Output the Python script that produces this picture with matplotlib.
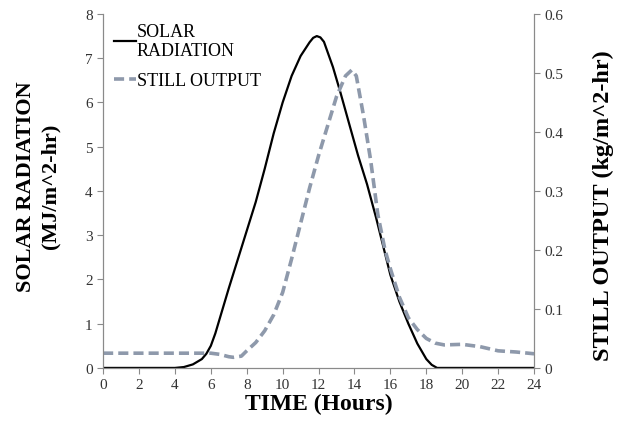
import matplotlib
matplotlib.use("Agg")
import matplotlib.pyplot as plt

hours_solar = [0, 1, 2, 3, 4, 4.5, 5, 5.5, 5.75, 6, 6.25, 6.5, 7, 7.5, 8, 8.5, 9, 9.5, 10, 10.5,
               11, 11.5, 11.7, 11.9, 12.1, 12.3, 12.8, 13.2, 13.75, 14.2, 14.7, 15.2, 15.6, 16,
               16.5, 17, 17.5, 18, 18.3, 18.6, 19, 20, 21, 22, 23, 24]
solar = [0, 0, 0, 0, 0, 0.02, 0.08, 0.2, 0.32, 0.5, 0.78, 1.12, 1.8, 2.45, 3.1, 3.75, 4.5, 5.3,
         6.0, 6.6, 7.05, 7.36, 7.46, 7.5, 7.47, 7.37, 6.8, 6.25, 5.45, 4.8, 4.15, 3.4, 2.75,
         2.1, 1.5, 1.0, 0.55, 0.2, 0.07, 0, 0, 0, 0, 0, 0, 0]

hours_still = [0, 1, 2, 3, 4, 5, 6, 6.5, 7, 7.25, 7.7, 8, 8.5, 9, 9.5, 10, 10.5, 11, 11.5, 12,
               12.5, 13, 13.5, 13.85, 14.1, 14.5, 14.9, 15.3, 15.7, 16, 16.5, 17, 17.5, 18, 18.5,
               19, 20, 21, 22, 23, 24]
still = [0.025, 0.025, 0.025, 0.025, 0.025, 0.025, 0.025, 0.023, 0.019, 0.018, 0.02, 0.029,
         0.043, 0.063, 0.09, 0.128, 0.185, 0.245, 0.305, 0.36, 0.41, 0.46, 0.495, 0.505, 0.495,
         0.428, 0.352, 0.26, 0.2, 0.168, 0.12, 0.085, 0.065, 0.05, 0.042, 0.039, 0.04, 0.036,
         0.029, 0.027, 0.024]

x_ticks = list(range(0, 25, 2))
left_ticks = list(range(0, 9))
right_ticks = [0, 0.1, 0.2, 0.3, 0.4, 0.5, 0.6]
right_labels = ["0", "0.1", "0.2", "0.3", "0.4", "0.5", "0.6"]

plt.rcParams['font.family'] = ['Liberation Serif', 'DejaVu Serif']

fig = plt.figure(figsize=(6.21, 4.27), dpi=100)
ax = fig.add_axes([0.166, 0.136, 0.694, 0.829])
ax2 = ax.twinx()

axis_col = '#8a8a8a'
l1, = ax.plot(hours_solar, solar, color='black', lw=1.6, label='SOLAR\nRADIATION')
l2, = ax2.plot(hours_still, still, color='#8e99ab', lw=2.6, ls=(0, (2.8, 1.4)),
               label='STILL OUTPUT')

ax.set_xlim(0, 24)
ax.set_ylim(0, 8)
ax2.set_ylim(0, 0.6)
ax.set_xticks(x_ticks)
ax.set_yticks(left_ticks)
ax2.set_yticks(right_ticks)
ax2.set_yticklabels(right_labels)

for a in (ax, ax2):
    a.spines['top'].set_visible(False)
    for s in ('left', 'right', 'bottom'):
        a.spines[s].set_color(axis_col)
    a.tick_params(colors=axis_col, labelcolor='#333333', labelsize=11, length=4)

ax.tick_params(axis='x', direction='out')
ax.tick_params(axis='y', direction='out')
ax2.tick_params(axis='y', direction='out')

ax.set_xlabel('TIME (Hours)', fontsize=17, fontweight='bold', labelpad=1)
ax.set_ylabel('SOLAR RADIATION\n(MJ/m^2-hr)', fontsize=16, fontweight='bold',
              linespacing=1.3)
ax.yaxis.set_label_coords(-0.098, 0.515)
ax2.set_ylabel('STILL OUTPUT (kg/m^2-hr)', fontsize=17.5, fontweight='bold')
ax2.yaxis.set_label_coords(1.136, 0.46)

leg = ax.legend(handles=[l1, l2], loc='upper left', bbox_to_anchor=(0.005, 1.0), frameon=False,
                fontsize=13, handlelength=1.2, handletextpad=0.05, labelspacing=0.75,
                borderaxespad=0.1)
for t in leg.get_texts():
    t.set_linespacing(1.15)

fig.savefig('out.png', dpi=100)
